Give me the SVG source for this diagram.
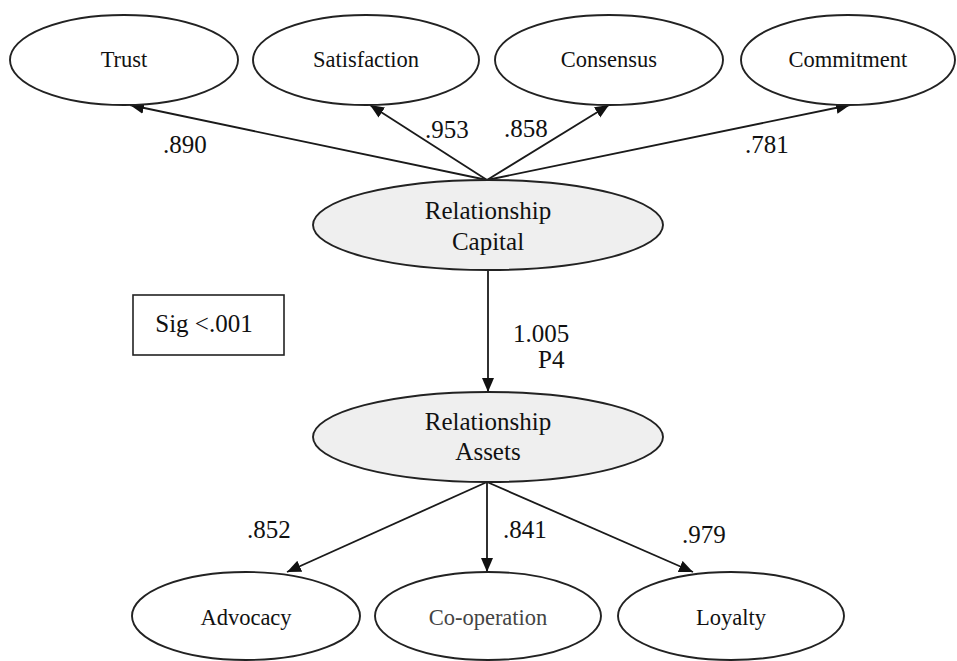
<svg xmlns="http://www.w3.org/2000/svg" width="957" height="661" viewBox="0 0 957 661">
<style>
.node ellipse{fill:#ffffff;stroke:#222;stroke-width:1.9}
.latent ellipse{fill:#efefef;stroke:#222;stroke-width:1.9}
.t{font-family:"Liberation Serif","Times New Roman",serif;fill:#111;text-anchor:middle}
.leaf{font-size:22.5px}
.big{font-size:25px}
.lab{font-family:"Liberation Serif","Times New Roman",serif;font-size:25px;fill:#111}
.edge{stroke:#1a1a1a;stroke-width:1.8;fill:none;marker-end:url(#ah)}
</style>
<defs>
<marker id="ah" markerUnits="userSpaceOnUse" markerWidth="16" markerHeight="14" refX="14" refY="6" orient="auto">
<path d="M0,0 L14,6 L0,12 z" fill="#111"/>
</marker>
</defs>
<rect width="957" height="661" fill="#ffffff"/>
<g id="connectors">
<line class="edge" x1="487" y1="180" x2="130" y2="105"/>
<line class="edge" x1="487" y1="180" x2="370" y2="105"/>
<line class="edge" x1="487" y1="180" x2="609" y2="105"/>
<line class="edge" x1="487" y1="180" x2="850" y2="105"/>
<line class="edge" x1="488" y1="270" x2="488" y2="392"/>
<line class="edge" x1="487" y1="482" x2="287" y2="572"/>
<line class="edge" x1="487" y1="482" x2="487" y2="572"/>
<line class="edge" x1="487" y1="482" x2="693" y2="572"/>
</g>
<g id="edge-labels">
<text class="lab" x="163" y="153">.890</text>
<text class="lab" x="425" y="138">.953</text>
<text class="lab" x="504" y="137">.858</text>
<text class="lab" x="745" y="153">.781</text>
<text class="lab" x="513" y="342">1.005</text>
<text class="lab" x="538" y="368">P4</text>
<text class="lab" x="247" y="538">.852</text>
<text class="lab" x="503" y="538">.841</text>
<text class="lab" x="682" y="543">.979</text>
</g>
<g id="trust" class="node"><ellipse cx="124" cy="60" rx="114" ry="45"/><text class="t leaf" x="124" y="67">Trust</text></g>
<g id="satisfaction" class="node"><ellipse cx="366" cy="60" rx="113" ry="45"/><text class="t leaf" x="366" y="67">Satisfaction</text></g>
<g id="consensus" class="node"><ellipse cx="609" cy="60" rx="114" ry="45"/><text class="t leaf" x="609" y="67">Consensus</text></g>
<g id="commitment" class="node"><ellipse cx="848" cy="60" rx="107" ry="45"/><text class="t leaf" x="848" y="67">Commitment</text></g>
<g id="relationship-capital" class="latent"><ellipse cx="488" cy="225" rx="175" ry="45"/><text class="t big" x="488" y="219">Relationship</text><text class="t big" x="488" y="250">Capital</text></g>
<g id="sig-box"><rect x="133" y="295" width="151" height="60" fill="#ffffff" stroke="#222" stroke-width="1.6"/><text class="t big" x="204" y="332">Sig &lt;.001</text></g>
<g id="relationship-assets" class="latent"><ellipse cx="488" cy="437" rx="175" ry="45"/><text class="t big" x="488" y="430">Relationship</text><text class="t big" x="488" y="460">Assets</text></g>
<g id="advocacy" class="node"><ellipse cx="246" cy="616" rx="114" ry="44"/><text class="t leaf" x="246" y="625">Advocacy</text></g>
<g id="co-operation" class="node"><ellipse cx="488" cy="616" rx="113" ry="44"/><text class="t leaf" x="488" y="625" style="fill:#444">Co-operation</text></g>
<g id="loyalty" class="node"><ellipse cx="731" cy="616" rx="113" ry="44"/><text class="t leaf" x="731" y="625">Loyalty</text></g>
</svg>
